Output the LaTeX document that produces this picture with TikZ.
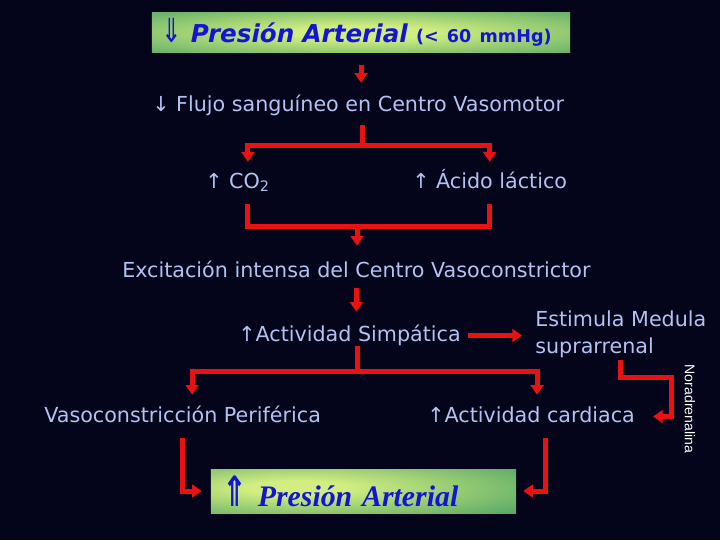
\documentclass[tikz,border=0pt]{standalone}
\usepackage{fontspec}
\setmainfont{DejaVu Sans}
\newfontfamily\boxserif{Liberation Serif}
\newfontfamily\narrowsans{Liberation Sans}
\usepackage{xcolor}
\definecolor{SlideNavy}{HTML}{04041A}
\definecolor{LabelBlue}{HTML}{B4C2F2}
\definecolor{FlowRed}{HTML}{E81212}
\definecolor{TitleBlue}{HTML}{1414D6}
\definecolor{GlowIn}{HTML}{D2EE80}
\definecolor{GlowOut}{HTML}{3A9660}
\usepackage{tikz}
\usetikzlibrary{positioning}
\usetikzlibrary{calc}
\usetikzlibrary{arrows, arrows.meta}
\pgfdeclareradialshading{glowMid}{\pgfpoint{0bp}{0bp}}{color(0bp)=(GlowIn); color(8bp)=(GlowIn); color(48bp)=(GlowOut); color(100bp)=(GlowOut)}
\pgfdeclareradialshading{glowLeft}{\pgfpoint{-12bp}{4bp}}{color(0bp)=(GlowIn); color(8bp)=(GlowIn); color(50bp)=(GlowOut); color(100bp)=(GlowOut)}

\begin{document}
\begin{tikzpicture}[
    x=0.025cm, y=-0.025cm,
    labelFont/.style={text=LabelBlue,
    font=\fontsize{14.7}{18.5}\selectfont,
    inner sep=0pt},
    slideText/.style={labelFont,
    anchor=base west,
    text height=0.4cm,
    text depth=0.125cm},
    glowBox/.style={rectangle,
    inner ysep=0pt,
    inner xsep=0.25cm,
    align=left,
    text=TitleBlue},
    redLine/.style={draw=FlowRed, line width=0.125cm},
    redFlow/.style={redLine, -{Triangle[width=0.32cm, length=0.24cm]}}
    ]
    \useasboundingbox (0,0) rectangle (720,540);
    \fill[SlideNavy] (0,0) rectangle (720,540);

    \node[glowBox, shading=glowMid, text width=9.95cm, minimum height=0.975cm, font=\fontsize{17.5}{20}\selectfont] (lowBP) at (361,32.5) {\mbox{\scalebox{1}[1.35]{⇓} {\bfseries\itshape Presión Arterial} {\fontsize{12.5}{14}\selectfont\bfseries (< 60 mmHg)}}};
    \node[slideText] (flow) at (152,111) {↓ Flujo sanguíneo en Centro Vasomotor};
    \node[slideText] (co2) at (205,188) {↑ CO\textsubscript{2}};
    \node[slideText] (lactic) at (412,188) {↑ Ácido láctico};
    \node[slideText] (vasoExc) at (122,277) {Excitación intensa del Centro Vasoconstrictor};
    \node[slideText] (sympat) at (238,341) {↑Actividad Simpática};
    \node[labelFont, anchor=north west, align=left] (adrenal) at (535,311) {Estimula Medula\\suprarrenal};
    \node[slideText] (periph) at (44,422) {Vasoconstricción Periférica};
    \node[slideText] (cardiac) at (427,422) {↑Actividad cardiaca};
    \node[text=white, font=\narrowsans\fontsize{10}{12}\selectfont, rotate=-90, inner sep=0pt] (noradr) at (690,409) {Noradrenalina};
    \node[glowBox, shading=glowLeft, text width=7.025cm, inner xsep=0.3cm, minimum height=1.1cm, font=\boxserif\fontsize{21.2}{24}\selectfont\bfseries\itshape] (highBP) at (363.5,491) {\mbox{{\rmfamily\upshape\bfseries\scalebox{1}[1.4]{⇑}} Presión Arterial}};

    \draw[redFlow, shorten <=0.325cm, shorten >=0.3cm] (lowBP.south) -- (lowBP.south |- flow.north);
    \coordinate (splitFlow) at (362,145);
    \draw[redLine, shorten <=0.225cm] (splitFlow |- flow.south) -- (splitFlow);
    \draw[redFlow, shorten >=0.25cm] (splitFlow) -| ([xshift=0.26cm]co2.north);
    \draw[redFlow, shorten >=0.25cm] (splitFlow) -| (lactic.north);
    \coordinate (joinGas) at (357,226);
    \draw[redLine, shorten <=0.275cm, shorten >=0.275cm] ([xshift=0.26cm]co2.south) |- (joinGas) -| (lactic.south);
    \draw[redFlow, shorten >=0.375cm] (joinGas) -- (joinGas |- vasoExc.north);
    \draw[redFlow, shorten <=0.15cm, shorten >=0.325cm] (vasoExc.south) -- (vasoExc.south |- sympat.north);
    \draw[redFlow, shorten <=0.175cm, shorten >=0.325cm] (sympat.east) -- (sympat.east -| adrenal.west);
    \coordinate (splitSym) at (357,371);
    \draw[redLine] (splitSym |- sympat.south) -- (splitSym);
    \draw[redFlow, shorten >=0.275cm] (splitSym) -| ([xshift=0.24cm]periph.north);
    \draw[redFlow, shorten >=0.275cm] (splitSym) -| ([xshift=0.15cm]cardiac.north);
    \coordinate (bendNor) at (671,377);
    \draw[redFlow, shorten <=0.05cm, shorten >=0.45cm] (adrenal.south) |- (bendNor) |- (cardiac.east);
    \draw[redFlow, shorten <=0.275cm, shorten >=0.225cm] (periph.south) |- (highBP.west);
    \draw[redFlow, shorten <=0.275cm, shorten >=0.175cm] ([xshift=0.35cm]cardiac.south) |- (highBP.east);
  \end{tikzpicture}
\end{document}
